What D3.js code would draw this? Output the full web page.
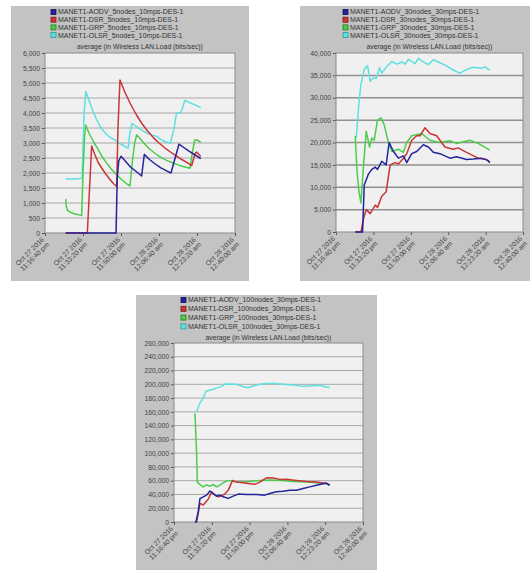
<!DOCTYPE html>
<html><head><meta charset="utf-8">
<script src="https://cdn.jsdelivr.net/npm/d3@7/dist/d3.min.js"></script>
<style>
body{margin:0;background:#fff}
svg{display:block}
text{font-family:"Liberation Sans",Arial,sans-serif}
</style>
</head><body>
<svg id="c" width="532" height="570"></svg>
<script>
// ---- shared axis data ----
const timeTicks = [0, 1000, 2000, 3000, 4000, 5000]; // seconds from 11:16:40 pm
const timeTickLabels = [
  ["Oct 27 2016", "11:16:40 pm"],
  ["Oct 27 2016", "11:33:20 pm"],
  ["Oct 27 2016", "11:50:00 pm"],
  ["Oct 28 2016", "12:06:40 am"],
  ["Oct 28 2016", "12:23:20 am"],
  ["Oct 28 2016", "12:40:00 am"]
];
const chartTitle = "average (in Wireless LAN.Load (bits/sec))";
const protocols = ["AODV", "DSR", "GRP", "OLSR"];
const seriesColors = ["#23239c", "#c83636", "#4bcc4b", "#5fe0e0"];
const squareStroke = ["#10105a", "#801818", "#1f7a1f", "#2a9a9a"];

// ---- panel 1: 5 nodes ----
const legend5 = ["MANET1-AODV_5nodes_10mps-DES-1","MANET1-DSR_5nodes_10mps-DES-1","MANET1-GRP_5nodes_10mps-DES-1","MANET1-OLSR_5nodes_10mps-DES-1"];
const yTicks5 = [0,500,1000,1500,2000,2500,3000,3500,4000,4500,5000,5500,6000];
const aodv5 = [[545,0],[1870,0],[1900,1800],[1940,2400],[2000,2560],[2100,2420],[2250,2200],[2400,2050],[2543,1900],[2613,2620],[2750,2450],[2900,2300],[3050,2170],[3200,2070],[3315,2000],[3525,2960],[3650,2850],[3800,2720],[3950,2600],[4100,2480]];
const dsr5 = [[545,0],[1114,0],[1228,2900],[1300,2650],[1400,2350],[1500,2150],[1580,2000],[1700,1800],[1800,1650],[1886,1550],[1920,3500],[1973,5100],[2100,4700],[2250,4300],[2400,3950],[2550,3650],[2700,3400],[2850,3180],[3000,3000],[3150,2840],[3300,2700],[3450,2570],[3600,2450],[3750,2340],[3860,2250],[3950,2650],[3990,2700],[4050,2620],[4100,2550]];
const grp5 = [[545,1130],[560,900],[590,760],[650,700],[750,650],[850,620],[965,580],[1000,2000],[1040,3200],[1070,3600],[1150,3350],[1272,3050],[1400,2780],[1500,2550],[1600,2370],[1700,2200],[1840,2000],[2000,1800],[2150,1640],[2236,1570],[2300,2400],[2360,3000],[2412,3270],[2500,3150],[2600,3000],[2750,2800],[2900,2650],[3050,2520],[3200,2420],[3350,2340],[3500,2270],[3650,2210],[3815,2160],[3880,2700],[3940,3100],[4000,3100],[4100,3020]];
const olsr5 = [[545,1800],[700,1800],[940,1820],[975,1850],[1000,2800],[1030,4000],[1075,4720],[1150,4450],[1250,4100],[1350,3800],[1450,3560],[1550,3380],[1650,3250],[1750,3160],[1840,3100],[1950,3000],[2080,2900],[2190,2830],[2230,3300],[2290,3650],[2400,3550],[2500,3460],[2600,3390],[2700,3320],[2800,3270],[2940,3220],[3050,3120],[3150,3050],[3300,3000],[3400,3500],[3460,4000],[3580,4020],[3680,4420],[3800,4350],[3950,4270],[4100,4180]];

// ---- panel 2: 30 nodes ----
const legend30 = ["MANET1-AODV_30nodes_30mps-DES-1","MANET1-DSR_30nodes_30mps-DES-1","MANET1-GRP_30nodes_30mps-DES-1","MANET1-OLSR_30nodes_30mps-DES-1"];
const yTicks30 = [0,5000,10000,15000,20000,25000,30000,35000,40000];
const aodv30 = [[515,0],[710,0],[755,10500],[870,13000],[959,14000],[1048,14500],[1110,14000],[1225,15800],[1341,15000],[1421,20000],[1536,18000],[1669,16500],[1803,17000],[1891,15500],[2025,17500],[2158,18000],[2335,19500],[2469,19000],[2602,17800],[2779,17500],[3046,16500],[3223,16800],[3490,16200],[3667,16300],[3889,16500],[4067,16000],[4111,15500]];
const dsr30 = [[515,0],[666,0],[737,3000],[808,5000],[915,4100],[1048,6000],[1110,5500],[1225,8000],[1341,9000],[1448,15000],[1580,15500],[1669,15200],[1803,16500],[1891,17500],[2025,20500],[2158,21500],[2247,21500],[2380,23300],[2513,22000],[2691,21500],[2913,19000],[3135,18500],[3268,18800],[3490,17800],[3801,16500],[4023,16200],[4111,15500]];
const grp30 = [[515,21500],[559,14000],[613,9000],[666,6500],[737,15000],[808,22500],[897,19000],[959,21000],[1021,20500],[1110,25000],[1199,25500],[1288,24000],[1403,19900],[1492,18000],[1669,18500],[1803,17800],[1891,20000],[2025,21500],[2291,22000],[2513,20500],[2779,20000],[3046,20400],[3223,19800],[3579,20500],[3801,19800],[4111,18300]];
const olsr30 = [[542,21000],[604,28000],[666,33000],[755,36300],[844,37200],[915,33700],[1003,34500],[1074,34300],[1163,36700],[1225,35500],[1359,37000],[1492,38100],[1625,37500],[1758,38000],[1847,37500],[1936,38600],[2113,37600],[2202,38800],[2335,38000],[2469,37400],[2602,38500],[2735,38000],[2913,37300],[3135,36200],[3312,35500],[3490,36300],[3667,36800],[3889,36600],[3978,36900],[4111,36200]];

// ---- panel 3: 100 nodes ----
const legend100 = ["MANET1-AODV_100nodes_30mps-DES-1","MANET1-DSR_100nodes_30mps-DES-1","MANET1-GRP_100nodes_30mps-DES-1","MANET1-OLSR_100nodes_30mps-DES-1"];
const yTicks100 = [0,20000,40000,60000,80000,100000,120000,140000,160000,180000,200000,220000,240000,260000];
const aodv100 = [[554,0],[581,0],[642,15000],[686,34000],[774,36600],[862,39000],[950,45000],[1038,41400],[1126,37600],[1214,39000],[1302,36600],[1434,34300],[1566,37600],[1698,40500],[1918,40000],[2182,40000],[2402,39000],[2534,41400],[2710,43800],[2886,44500],[3062,46200],[3238,46200],[3414,48600],[3590,51000],[3766,53300],[3942,55700],[4030,56600],[4118,53300]];
const dsr100 = [[554,0],[598,0],[686,27000],[774,24700],[906,33000],[994,43800],[1082,39000],[1170,36600],[1258,38000],[1346,41000],[1434,46000],[1549,60400],[1654,58000],[1830,57000],[2006,55700],[2138,54700],[2270,58000],[2446,64200],[2622,64000],[2798,61900],[2974,62000],[3238,60400],[3502,59000],[3766,58000],[4030,56000],[4118,54300]];
const grp100 = [[554,158000],[598,100000],[616,58000],[686,54300],[774,51000],[862,54000],[950,52000],[1038,54500],[1126,51000],[1214,53500],[1302,57000],[1434,60400],[1566,59000],[1742,58000],[2006,59000],[2270,60400],[2534,61000],[2886,60400],[3150,59000],[3502,58000],[3766,57000],[4030,55700],[4118,53300]];
const olsr100 = [[598,160000],[686,173000],[774,180000],[845,190000],[994,192000],[1126,194500],[1258,197000],[1346,200400],[1654,200000],[1830,196500],[1962,195000],[2094,197500],[2270,200000],[2446,201000],[2710,201000],[2886,200000],[3150,199000],[3414,197000],[3678,198000],[3854,198500],[4030,196000],[4118,195500]];

const svg = d3.select("#c");

function drawPanel(cfg) {
  const g = svg.append("g");
  g.append("rect").attr("x", cfg.panel[0]).attr("y", cfg.panel[1])
    .attr("width", cfg.panel[2] - cfg.panel[0]).attr("height", cfg.panel[3] - cfg.panel[1])
    .attr("fill", "#c3c3c3");
  const [L, T, R, B] = cfg.plot;
  const x = d3.scaleLinear().domain([0, 5000]).range([L, R]);
  const y = d3.scaleLinear().domain([0, cfg.yTicks[cfg.yTicks.length - 1]]).range([B, T]);
  g.append("rect").attr("x", L).attr("y", T).attr("width", R - L).attr("height", B - T)
    .attr("fill", "#f0f0f0");
  // gridlines
  g.append("g").selectAll("line").data(cfg.yTicks.slice(1, -1)).join("line")
    .attr("x1", L).attr("x2", R).attr("y1", d => y(d)).attr("y2", d => y(d))
    .attr("stroke", cfg.gridColor).attr("stroke-width", cfg.gridWidth);
  // y axis
  const ya = g.append("g").attr("transform", `translate(${L},0)`)
    .call(d3.axisLeft(y).tickValues(cfg.yTicks).tickSize(3).tickPadding(2).tickFormat(d3.format(",")));
  ya.select(".domain").remove();
  ya.selectAll("line").attr("stroke", "#555");
  ya.selectAll("text").attr("font-size", 6.8).attr("fill", "#444").attr("font-family", "'Liberation Sans',Arial,sans-serif");
  // x axis
  const xa = g.append("g").attr("transform", `translate(0,${B})`)
    .call(d3.axisBottom(x).tickValues(timeTicks).tickSize(3).tickFormat(""));
  xa.select(".domain").remove();
  xa.selectAll("line").attr("stroke", "#555");
  xa.selectAll(".tick").each(function(d, i) {
    const t = d3.select(this).append("text")
      .attr("transform", "translate(-1,7) rotate(-45)")
      .attr("text-anchor", "end").attr("font-size", 6.8).attr("fill", "#444")
      .attr("font-family", "'Liberation Sans',Arial,sans-serif");
    t.append("tspan").attr("x", 0).attr("dy", 0).text(timeTickLabels[i][0]);
    t.append("tspan").attr("x", 0).attr("dy", 7).text(timeTickLabels[i][1]);
  });
  // border
  g.append("rect").attr("x", L).attr("y", T).attr("width", R - L).attr("height", B - T)
    .attr("fill", "none").attr("stroke", "#8a8a8a").attr("stroke-width", 1);
  // lines (draw OLSR, GRP, DSR, AODV so AODV on top)
  const line = d3.line().x(d => x(d[0])).y(d => y(d[1]));
  [3, 2, 1, 0].forEach(k => {
    g.append("path").datum(cfg.series[k]).attr("d", line)
      .attr("fill", "none").attr("stroke", seriesColors[k]).attr("stroke-width", 1.5)
      .attr("stroke-linejoin", "round");
  });
  // title
  g.append("text").attr("x", (L + R) / 2).attr("y", cfg.titleY).attr("text-anchor", "middle")
    .attr("font-size", 6.8).attr("fill", "#333").text(chartTitle);
  // legend
  cfg.legend.forEach((name, k) => {
    const yy = cfg.legendY + k * cfg.legendStep;
    g.append("rect").attr("x", cfg.legendX).attr("y", yy - 2.5).attr("width", 5).attr("height", 5)
      .attr("fill", seriesColors[k]).attr("stroke", squareStroke[k]).attr("stroke-width", 0.8);
    g.append("text").attr("x", cfg.legendX + 7).attr("y", yy + 2.4).attr("font-size", 7)
      .attr("fill", "#333").text(name);
  });
}

drawPanel({panel:[11,6,249,281], plot:[45,53,235,233], yTicks:yTicks5, series:[aodv5,dsr5,grp5,olsr5],
  legend:legend5, legendX:51, legendY:12, legendStep:7.7, titleY:49, gridColor:"#a8a8a8", gridWidth:1});
drawPanel({panel:[300,6,530,281], plot:[336,53,523,232], yTicks:yTicks30, series:[aodv30,dsr30,grp30,olsr30],
  legend:legend30, legendX:343, legendY:12, legendStep:7.7, titleY:49, gridColor:"#909090", gridWidth:1.5});
drawPanel({panel:[136,295,377,570], plot:[174,343,363,522], yTicks:yTicks100, series:[aodv100,dsr100,grp100,olsr100],
  legend:legend100, legendX:181, legendY:300, legendStep:8.8, titleY:340, gridColor:"#a8a8a8", gridWidth:1});
</script>
</body></html>
